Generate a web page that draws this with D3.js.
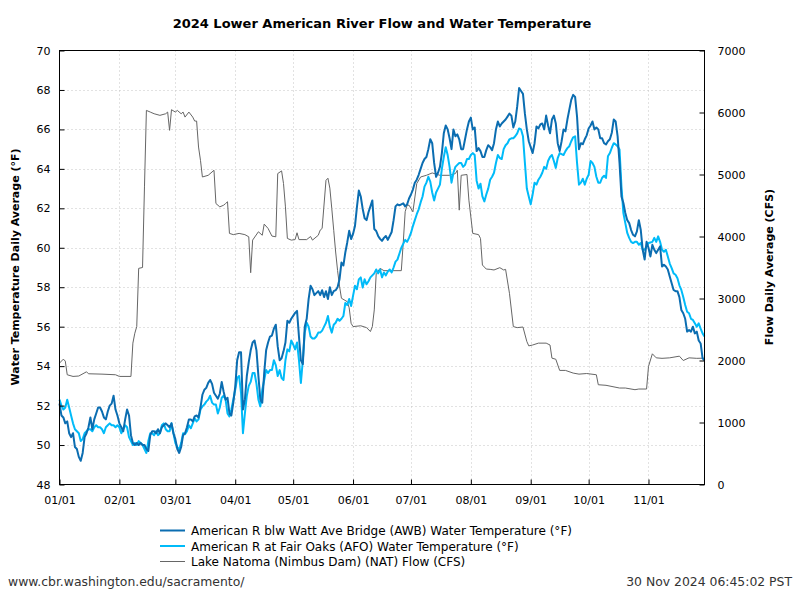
<!DOCTYPE html>
<html><head><meta charset="utf-8">
<script src="https://cdn.jsdelivr.net/npm/d3@7"></script>
<style>
body{margin:0;background:#fff}
text{font-family:"DejaVu Sans",sans-serif}
</style>
</head><body>
<svg id="chart" width="800" height="600"></svg>
<script>
// ---------------- DATA ----------------
const startDate = Date.UTC(2024, 0, 1);
const endDate = Date.UTC(2024, 10, 30);
const tempTicks = [48, 50, 52, 54, 56, 58, 60, 62, 64, 66, 68, 70];
const flowTicks = [0, 1000, 2000, 3000, 4000, 5000, 6000, 7000];
const monthTicks = ["01/01","02/01","03/01","04/01","05/01","06/01","07/01","08/01","09/01","10/01","11/01"];

// American R blw Watt Ave Bridge (AWB), daily mean °F, from 2024-01-01
const awbTemp = [
 52.1,51.5,51.4,51.1,51.2,50.6,50.4,50.6,49.9,49.8,
 49.4,49.2,49.6,50.4,50.6,50.9,51.4,50.8,51.3,51.6,
 51.9,51.9,51.7,51.4,51.3,51.7,52.0,52.1,52.5,51.8,
 51.5,51.1,50.9,50.7,51.3,51.8,51.5,50.5,50.1,50.0,
 50.1,50.0,50.1,50.0,50.0,49.8,49.7,50.5,50.7,50.7,
 50.6,50.8,50.6,50.9,51.0,51.1,51.0,
 50.9,51.1,50.6,50.3,49.8,49.6,49.9,50.5,50.6,50.9,
 51.3,51.3,51.2,51.45,51.5,51.4,51.9,52.55,52.8,52.9,
 53.15,53.3,53.1,52.65,52.5,52.35,52.6,53.2,52.7,52.3,
 52.4,51.6,51.5,52.15,52.95,54.3,54.7,54.7,51.8,52.3,
 53.5,54.2,54.8,55.2,55.3,54.8,53.5,52.3,52.15,53.65,
 54.8,55.2,55.5,55.55,55.9,56.1,55.0,54.3,
 54.4,54.75,55.2,56.3,56.2,56.4,56.55,56.7,56.8,55.5,
 54.3,54.1,56.0,56.4,57.4,58.07,57.9,57.6,57.7,57.8,
 57.6,57.85,57.5,57.8,57.4,58.0,57.6,57.8,57.85,58.0,
 58.4,59.25,59.1,59.76,60.27,60.86,60.44,60.7,61.1,62.05,
 62.9,62.6,61.97,61.5,61.4,61.8,62.1,62.4,60.95,60.85,
 60.6,60.45,60.35,60.5,60.6,60.4,
 60.6,60.8,61.4,62.1,62.2,62.15,62.2,62.25,62.1,62.2,
 62.5,62.7,62.95,63.3,63.45,63.7,64.0,64.3,64.5,64.6,
 65.0,65.5,65.3,64.3,63.6,63.8,64.1,64.8,65.8,66.2,66.0,
 65.55,65.0,66.0,65.65,65.75,65.5,65.0,65.0,65.5,66.0,
 66.4,66.6,66.0,66.1,64.9,65.05,64.9,64.6,64.6,64.95,
 65.2,65.1,64.95,65.3,66.0,66.4,
 66.15,66.3,66.4,66.5,66.65,66.8,66.7,66.1,66.4,67.15,
 68.1,67.95,67.8,66.8,66.0,65.4,65.1,64.8,65.3,66.15,
 66.05,66.25,66.3,66.0,66.7,66.2,65.8,66.5,66.7,66.3,
 65.3,64.9,65.4,66.0,65.9,66.5,67.0,67.5,67.75,67.65,
 66.65,65.0,65.3,65.25,65.5,65.7,66.05,66.2,66.4,
 66.0,66.1,66.0,65.55,65.55,65.3,
 65.24,65.4,65.5,65.83,66.5,66.4,65.66,64.3,62.6,62.27,
 61.76,61.4,61.25,60.9,60.66,60.58,60.83,61.4,60.9,59.9,
 59.4,60.3,60.0,59.56,60.15,
 59.9,59.73,59.9,60.07,59.05,59.14,59.05,58.9,58.54,58.2,
 57.86,57.8,57.8,57.5,56.85,56.68,56.4,55.75,55.83,55.75,
 56.0,55.66,55.75,55.3,55.15,54.4,54.3
];

// American R at Fair Oaks (AFO), daily mean °F, from 2024-01-01
const afoTemp = [
 52.3,52.0,51.8,51.9,52.3,51.9,51.5,51.1,50.8,50.7,
 50.6,50.2,50.3,50.6,50.7,50.8,50.8,50.7,50.9,51.0,
 50.9,50.9,50.8,50.6,50.9,51.0,51.1,51.0,51.0,50.9,
 51.0,50.9,50.6,50.8,51.0,50.9,50.4,50.2,50.0,50.1,
 50.0,50.2,50.1,50.0,49.8,49.6,50.2,50.6,50.6,50.5,
 50.7,50.5,50.6,51.0,51.1,50.8,50.7,
 50.7,51.1,50.6,50.1,49.9,49.77,50.1,50.6,50.55,50.7,
 51.0,50.85,51.1,51.35,51.2,51.3,51.8,51.96,52.05,52.2,
 52.3,52.5,52.15,52.05,52.05,51.6,51.9,52.4,52.5,52.3,
 51.6,51.45,51.8,52.3,52.8,53.4,53.5,52.65,50.6,51.6,
 52.5,53.0,53.2,53.65,53.65,53.1,52.3,51.96,52.8,53.3,
 53.8,53.65,53.8,53.8,54.3,54.05,53.5,53.8,
 53.4,53.3,54.3,54.85,54.75,55.3,55.1,54.85,55.2,54.3,
 53.15,54.3,55.7,56.2,56.0,55.5,55.4,55.4,55.5,55.7,
 55.7,55.8,56.0,56.2,56.54,56.0,55.7,56.1,56.2,56.4,
 56.3,56.4,56.54,57.2,57.1,57.4,57.05,57.56,58.07,57.9,
 58.4,58.5,57.98,58.4,58.15,58.3,58.5,58.6,58.7,58.9,
 58.7,58.9,58.5,58.75,58.6,58.8,
 58.9,58.75,59.0,59.3,59.4,59.7,60.0,60.2,60.4,60.3,
 60.5,60.75,61.1,61.4,61.7,61.95,62.3,62.6,63.1,63.3,
 63.6,63.35,62.8,62.4,62.8,63.0,63.2,64.0,64.6,65.1,
 64.7,64.1,63.3,63.8,64.1,64.2,64.3,64.3,64.1,64.2,
 64.5,64.5,64.7,64.8,64.7,63.4,63.0,63.25,62.6,62.35,
 62.7,63.0,63.45,63.6,63.8,64.3,64.7,
 64.55,64.5,65.0,65.2,65.3,65.5,65.55,65.55,65.65,65.8,
 66.05,66.0,65.65,64.3,63.0,62.6,62.2,62.7,63.3,63.2,
 63.45,63.6,63.8,64.1,64.0,64.4,64.6,64.7,64.4,64.05,
 64.55,64.8,64.75,64.7,64.9,65.05,65.15,65.4,65.6,65.65,
 64.3,63.2,63.3,63.5,63.2,63.5,63.7,64.4,64.3,64.1,
 63.6,63.3,63.3,63.55,63.65,
 63.54,64.64,64.8,65.07,65.3,65.24,65.15,64.98,63.1,61.76,
 61.25,60.75,60.5,60.3,60.24,60.3,60.3,60.15,60.24,59.9,
 59.9,60.07,60.24,60.27,60.3,
 60.5,60.3,60.58,60.3,59.9,59.8,59.9,59.56,59.2,58.97,
 58.7,58.63,58.46,58.1,57.86,57.5,57.1,56.76,56.68,56.4,
 56.34,56.17,56.0,56.17,55.9,55.66,55.5
];

// Lake Natoma (Nimbus Dam) flow, CFS: day of year (0 = Jan 1) and value
const natFlowDays = [0,2,3,4,7,10,14,15,22,29,31,37,38,39,40,41,43,44,45,47,49,52,55,56,57,58,60,61,63,64,65,67,69,70,71,72,73,74,77,80,81,83,85,86,87,88,90,93,96,98,99,100,103,105,106,108,110,112,113,115,116,117,118,120,122,123,124,128,130,131,134,135,136,138,139,140,141,142,143,144,145,146,149,150,151,152,156,159,161,162,163,164,166,168,177,178,179,180,181,183,185,187,190,193,197,202,205,206,207,208,211,212,214,217,218,219,221,223,225,228,230,231,233,235,237,240,242,243,245,248,252,254,255,257,259,262,266,269,273,278,279,283,290,293,298,300,304,305,307,309,312,316,321,323,326,330,334];
const natFlowCfs = [1958,2022,1990,1770,1743,1750,1818,1786,1780,1770,1743,1743,2280,2440,2547,3486,3500,4800,6034,6007,5980,5954,5980,6007,5712,6045,6007,6034,5980,6007,5926,6007,5926,5862,5862,5443,5229,4960,4987,5068,4532,4478,4505,4532,4560,4050,4030,4050,4030,3995,3416,3942,4076,4020,4200,4130,4007,3995,5015,5058,4854,4478,3969,3942,3950,4060,3950,3950,4000,3942,4020,4103,4130,4907,4940,4780,4450,4100,3750,3450,3200,3004,2949,2850,2600,2547,2560,2530,2467,2547,2816,3400,3486,3449,3449,3900,4400,4505,4505,4398,4854,4960,4987,5025,4987,4987,5015,5068,4425,4987,5000,4586,4050,4030,3969,3540,3475,3470,3460,3497,3460,3470,3084,2547,2530,2540,2306,2236,2250,2280,2280,2250,2038,2020,1840,1840,1797,1780,1790,1770,1609,1600,1556,1556,1529,1540,1540,1904,2108,2043,2035,2043,2070,2000,2043,2035,2038];

const seriesNames = [
  "American R blw Watt Ave Bridge (AWB) Water Temperature (°F)",
  "American R at Fair Oaks (AFO) Water Temperature (°F)",
  "Lake Natoma (Nimbus Dam) (NAT) Flow (CFS)"
];
const seriesColors = ["#0b6db1", "#00bbf9", "#666666"];

// ---------------- CHART ----------------
const svg = d3.select("#chart");
const L = 59.5, R = 704.5, T = 50.5, B = 484.5;
const DAY = 86400000;

const x = d3.scaleUtc().domain([startDate, endDate]).range([L, R]);
const yT = d3.scaleLinear().domain([48, 70]).range([B, T]);
const yF = d3.scaleLinear().domain([0, 7000]).range([B, T]);
const monthDates = monthTicks.map((s, i) => new Date(Date.UTC(2024, i, 1)));

// grid
const grid = svg.append("g").attr("stroke", "#c4c4c4").attr("stroke-width", 1)
  .attr("stroke-dasharray", "1,3");
grid.selectAll("line.v").data(monthDates.slice(1)).join("line")
  .attr("x1", d => Math.round(x(d)) + 0.5).attr("x2", d => Math.round(x(d)) + 0.5)
  .attr("y1", T).attr("y2", B);
grid.selectAll("line.h").data(tempTicks.slice(1, -1)).join("line")
  .attr("x1", L).attr("x2", R)
  .attr("y1", d => Math.round(yT(d)) + 0.5).attr("y2", d => Math.round(yT(d)) + 0.5);

// lines
const awbPts = awbTemp.map((v, i) => [startDate + i * DAY, v]);
const afoPts = afoTemp.map((v, i) => [startDate + i * DAY, v]);
const natPts = natFlowDays.map((d, i) => [startDate + d * DAY, natFlowCfs[i]]);

const plot = svg.append("g");
plot.append("path").datum(natPts)
  .attr("fill", "none").attr("stroke", seriesColors[2]).attr("stroke-width", 1)
  .attr("d", d3.line().x(d => x(d[0])).y(d => yF(d[1])));
plot.append("path").datum(afoPts)
  .attr("fill", "none").attr("stroke", seriesColors[1]).attr("stroke-width", 2)
  .attr("stroke-linejoin", "round")
  .attr("d", d3.line().x(d => x(d[0])).y(d => yT(d[1])));
plot.append("path").datum(awbPts)
  .attr("fill", "none").attr("stroke", seriesColors[0]).attr("stroke-width", 2)
  .attr("stroke-linejoin", "round")
  .attr("d", d3.line().x(d => x(d[0])).y(d => yT(d[1])));

// axes
const axL = svg.append("g").attr("transform", `translate(${L},0)`)
  .call(d3.axisLeft(yT).tickValues(tempTicks).tickSize(-5).tickPadding(9).tickFormat(d3.format("d")));
const axR = svg.append("g").attr("transform", `translate(${R},0)`)
  .call(d3.axisRight(yF).tickValues(flowTicks).tickSize(-5).tickPadding(13).tickFormat(d3.format("d")));
const axB = svg.append("g").attr("transform", `translate(0,${B})`)
  .call(d3.axisBottom(x).tickValues(monthDates).tickSize(-5).tickPadding(12)
    .tickFormat((d, i) => monthTicks[i]));
[axL, axR, axB].forEach(g => {
  g.select(".domain").remove();
  g.selectAll(".tick line").attr("stroke", "#000");
  g.selectAll("text").attr("font-size", 11).attr("font-family", "DejaVu Sans").attr("fill", "#000");
});

// frame
svg.append("rect").attr("x", L).attr("y", T).attr("width", R - L).attr("height", B - T)
  .attr("fill", "none").attr("stroke", "#000").attr("stroke-width", 1);

// titles
svg.append("text").attr("x", 382).attr("y", 28).attr("text-anchor", "middle")
  .attr("font-size", 13).attr("font-weight", "bold")
  .text("2024 Lower American River Flow and Water Temperature");
svg.append("text").attr("transform", "translate(19,267) rotate(-90)").attr("text-anchor", "middle")
  .attr("font-size", 11).attr("font-weight", "bold")
  .text("Water Temperature Daily Average (°F)");
svg.append("text").attr("transform", "translate(773,267) rotate(-90)").attr("text-anchor", "middle")
  .attr("font-size", 11).attr("font-weight", "bold")
  .text("Flow Daily Average (CFS)");

// legend
const leg = svg.append("g");
const legTexts = [];
seriesNames.forEach((name, i) => {
  const yy = 530.5 + i * 15.5;
  leg.append("line").attr("x1", 160).attr("x2", 185).attr("y1", yy).attr("y2", yy)
    .attr("stroke", seriesColors[i]).attr("stroke-width", i < 2 ? 2 : 1);
  legTexts.push(leg.append("text").attr("x", 191).attr("y", yy + 4.5).attr("font-size", 12)
    .attr("font-family", "DejaVu Sans Condensed").text(name));
});
// fit legend text widths to the reference's proportion (first line = 381px)
const w0 = legTexts[0].node().getComputedTextLength();
const fit = 381 / w0;
legTexts.forEach(t => {
  const w = t.node().getComputedTextLength();
  t.attr("textLength", (w * fit).toFixed(1)).attr("lengthAdjust", "spacingAndGlyphs");
});

// footer
svg.append("text").attr("x", 8).attr("y", 586).attr("font-size", 12.4)
  .attr("font-family", "DejaVu Sans Condensed").attr("fill", "#333")
  .text("www.cbr.washington.edu/sacramento/");
svg.append("text").attr("x", 792).attr("y", 586).attr("text-anchor", "end").attr("font-size", 12.4)
  .attr("font-family", "DejaVu Sans Condensed").attr("fill", "#333")
  .text("30 Nov 2024 06:45:02 PST");
</script>
</body></html>
